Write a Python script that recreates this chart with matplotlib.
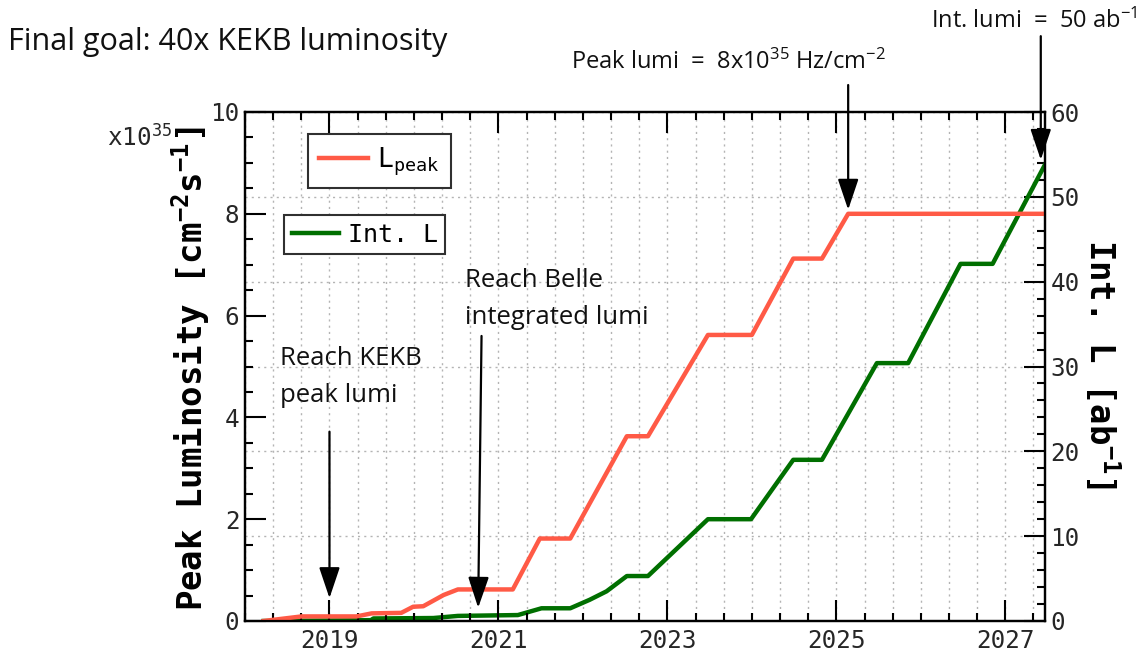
import matplotlib
matplotlib.use('Agg')
import matplotlib.pyplot as plt
from matplotlib.ticker import FixedLocator, MultipleLocator

W, H = 1148, 654
MONO = 'DejaVu Sans Mono'
SANS = 'Open Sans'
plt.rcParams['font.family'] = [MONO, 'DejaVu Sans']
plt.rcParams['mathtext.fontset'] = 'custom'
plt.rcParams['mathtext.rm'] = SANS
plt.rcParams['mathtext.it'] = SANS + ':italic'
plt.rcParams['mathtext.bf'] = MONO + ':bold'
plt.rcParams['mathtext.tt'] = MONO

# ---------------- data ----------------
peak_years = [2018.22, 2018.67, 2019.32, 2019.50, 2019.85, 2019.99, 2020.11, 2020.35,
              2020.52, 2021.17, 2021.49, 2021.85, 2022.52, 2022.77, 2023.48, 2024.00,
              2024.49, 2024.83, 2025.14, 2027.47]
peak_values = [0.0, 0.09, 0.09, 0.15, 0.16, 0.28, 0.29, 0.51,
               0.62, 0.62, 1.62, 1.62, 3.63, 3.63, 5.62, 5.62,
               7.12, 7.12, 8.0, 8.0]
int_years = [2018.22, 2019.49, 2019.52, 2020.23, 2020.52, 2021.23, 2021.51, 2021.85,
             2022.08, 2022.28, 2022.52, 2022.77, 2023.48, 2023.99, 2024.49, 2024.83,
             2025.48, 2025.85, 2026.47, 2026.85, 2027.47]
int_values = [0.0, 0.1, 0.3, 0.35, 0.6, 0.7, 1.5, 1.5,
              2.5, 3.5, 5.3, 5.3, 12.0, 12.0, 19.0, 19.0,
              30.4, 30.4, 42.1, 42.1, 53.8]
year_ticks = [2019, 2021, 2023, 2025, 2027]
peak_ticks = [0, 2, 4, 6, 8, 10]
int_ticks = [0, 10, 20, 30, 40, 50, 60]
x_range = (2018.0, 2027.47)

# annotations: (tail x, tail y, tip x, tip y) in left-axis data units
arrow_kekb = (2019.0, 3.72, 2019.0, 0.45)
arrow_belle = (2020.80, 5.60, 2020.76, 0.26)
arrow_peak = (2025.14, 10.53, 2025.14, 8.08)
arrow_int = (2027.42, 11.49, 2027.42, 9.06)

RED = '#ff5a46'
GREEN = '#006f00'
GRID = '#b4b4b4'
TXT = '#262626'
ANN = '#111111'


def fx(x):
    return x / W


def fy(y):
    return 1 - y / H


fig = plt.figure(figsize=(W / 100, H / 100), dpi=100)
axL = fig.add_axes([245 / W, 1 - 621 / H, 800 / W, 509 / H])
axR = axL.twinx()
axL.set_zorder(2)
axR.set_zorder(1)
axL.patch.set_visible(False)

axL.set_xlim(*x_range)
axL.set_ylim(peak_ticks[0], peak_ticks[-1])
axR.set_ylim(int_ticks[0], int_ticks[-1])

# ticks
axL.xaxis.set_major_locator(FixedLocator(year_ticks))
axL.xaxis.set_minor_locator(MultipleLocator(1 / 3))
axL.yaxis.set_major_locator(FixedLocator(peak_ticks))
axL.yaxis.set_minor_locator(MultipleLocator(0.5))
axR.yaxis.set_major_locator(FixedLocator(int_ticks))
axR.yaxis.set_minor_locator(MultipleLocator(2))

axL.tick_params(axis='x', which='both', direction='in', top=True, bottom=True,
                labelsize=17.5, labelcolor=TXT, pad=6, width=1.5)
axL.tick_params(axis='x', which='major', length=15)
axL.tick_params(axis='x', which='minor', length=6)
axL.tick_params(axis='y', which='both', direction='in', left=True, right=False,
                labelsize=17.5, labelcolor=TXT, pad=4, width=1.5)
axL.tick_params(axis='y', which='major', length=15)
axL.tick_params(axis='y', which='minor', length=6)
axR.tick_params(axis='y', which='both', direction='in', right=True, left=False,
                labelsize=17.5, labelcolor=TXT, pad=4, width=1.5)
axR.tick_params(axis='y', which='major', length=15)
axR.tick_params(axis='y', which='minor', length=6)

# grids on the lower axes
axR.xaxis.set_visible(True)
axR.tick_params(axis='x', which='both', bottom=False, top=False,
                labelbottom=False, labeltop=False)
axR.grid(axis='x', which='both', ls=(0, (1.5, 3)), color=GRID, lw=1)
axR.grid(axis='y', which='major', ls=(0, (1.5, 3)), color=GRID, lw=1)

for a in (axL, axR):
    for s in a.spines.values():
        s.set_linewidth(1.6)
        s.set_color('black')

# lines
lpeak, = axL.plot(peak_years, peak_values, color=RED, lw=3.2, solid_joinstyle='round')
lint, = axR.plot(int_years, int_values, color=GREEN, lw=3.2, solid_joinstyle='round')

# axis labels
axL.set_ylabel(r'Peak Luminosity [cm$^{\mathbf{-2}}$s$^{\mathbf{-1}}$]',
               fontsize=24.5, fontweight='bold', color='black')
axL.yaxis.set_label_coords((191 - 245) / 800, 0.495)
axL.yaxis.label.set_va('center')
axR.set_ylabel(r'Int. L [ab$^{\mathbf{-1}}$]', fontsize=24.5, fontweight='bold',
               color='black', rotation=270)
axR.yaxis.set_label_coords((1102 - 245) / 800, 0.505)
axR.yaxis.label.set_va('center')

fig.text(fx(107), fy(146), r'x10$^{\mathtt{35}}$', fontsize=17.5, color=TXT,
         ha='left', va='baseline')

# legends
leg1 = axL.legend([lpeak], [r'L$_{\mathtt{peak}}$'], loc='upper left',
                  bbox_to_anchor=((308 - 245) / 800, (621 - 134) / 509),
                  borderaxespad=0, fontsize=19, frameon=True, fancybox=False,
                  edgecolor='#303030', framealpha=1, handlelength=1.85,
                  handletextpad=0.35, borderpad=0.42)
leg1.get_frame().set_linewidth(1.5)
axL.add_artist(leg1)
leg2 = axL.legend([lint], ['Int. L'], loc='upper left',
                  bbox_to_anchor=((284 - 245) / 800, (621 - 215) / 509),
                  borderaxespad=0, fontsize=18, frameon=True, fancybox=False,
                  edgecolor='#303030', framealpha=1, handlelength=1.9,
                  handletextpad=0.35, borderpad=0.3)
leg2.get_frame().set_linewidth(1.5)

# arrows
aprops = dict(arrowstyle='-|>,head_length=0.95,head_width=0.32', lw=1.6,
              color='black', shrinkA=0, shrinkB=0, mutation_scale=20)
for (x0, y0, x1, y1) in (arrow_kekb, arrow_belle, arrow_peak, arrow_int):
    axL.annotate('', xy=(x1, y1), xytext=(x0, y0), xycoords='data',
                 textcoords='data', arrowprops=aprops, annotation_clip=False)

# texts
fig.text(fx(8), fy(50), 'Final goal: 40x KEKB luminosity', family=SANS,
         fontsize=22, color=ANN, ha='left', va='baseline')
fig.text(fx(571), fy(69), r'Peak lumi  =  8x10$^{35}$ Hz/cm$^{-2}$', family=SANS,
         fontsize=17, color=ANN, ha='left', va='baseline')
fig.text(fx(931), fy(28), r'Int. lumi  =  50 ab$^{-1}$', family=SANS,
         fontsize=17, color=ANN, ha='left', va='baseline')
fig.text(fx(280), fy(365), 'Reach KEKB', family=SANS, fontsize=18.5,
         color=ANN, ha='left', va='baseline')
fig.text(fx(280), fy(402), 'peak lumi', family=SANS, fontsize=18.5,
         color=ANN, ha='left', va='baseline')
fig.text(fx(465), fy(287), 'Reach Belle', family=SANS, fontsize=18.5,
         color=ANN, ha='left', va='baseline')
fig.text(fx(465), fy(324), 'integrated lumi', family=SANS, fontsize=18.5,
         color=ANN, ha='left', va='baseline')

fig.savefig('out.png', dpi=100)
